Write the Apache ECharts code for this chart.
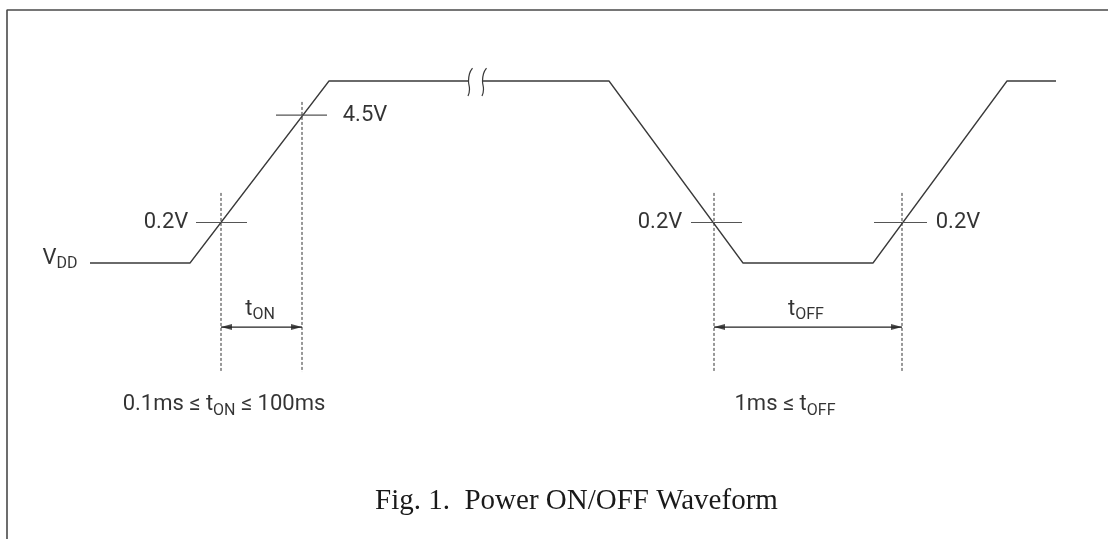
<!DOCTYPE html>
<html>
<head>
<meta charset="utf-8">
<title>Power ON/OFF Waveform</title>
<script src="https://cdn.jsdelivr.net/npm/echarts@6/dist/echarts.min.js"></script>
<style>
  html, body { margin: 0; padding: 0; background: #fff; }
  #main { width: 1108px; height: 539px; }
</style>
</head>
<body>
<div id="main"></div>
<script>
// time is schematic (not to scale); level 0 = 0V, 1 = VDD high
var waveTimes  = [0, 100, 239, 378, null, 392, 519, 653, 783, 917, 966];
var waveLevels = [0, 0,   1,   1,   null, 1,   1,   0,   0,   1,   1];

// break marks on the high level
var breakTimes  = [378, 392];
var breakDx     = [4.5, 1.5, 0.5, 1.5, 0];
var breakLevels = [1.071, 1.04, 1.0, 0.955, 0.918];

// threshold crossings (0.2V, 4.5V, 0.2V, 0.2V)
var markTimes  = [131, 212, 624, 812];
var markLevels = [0.2225, 0.813, 0.2225, 0.2225];
var markFrom   = [106, 186, 601, 784];
var markTo     = [157, 237, 652, 837];
var guideTop    = [0.385, 0.885, 0.385, 0.385];
var guideBottom = -0.599;

// tON / tOFF spans
var spanFrom  = [131, 624];
var spanTo    = [212, 812];
var spanLevel = -0.352;

var labelTexts = [
  '{m|V}{s|DD}',
  '{m|0.2V}',
  '{m|4.5V}',
  '{m|0.2V}',
  '{m|0.2V}',
  '{m|t}{s|ON}',
  '{m|t}{s|OFF}',
  '{m|0.1ms ≤ t}{s|ON}{m| ≤ 100ms}',
  '{m|1ms ≤ t}{s|OFF}'
];
var labelTimes  = [-30, 76, 275, 570, 868, 170, 716, 134, 695];
var labelLevels = [0.025, 0.2225, 0.813, 0.2225, 0.2225, -0.253, -0.253, -0.78, -0.78];

var captionText = 'Fig. 1.  Power ON/OFF Waveform';

// outer frame (top edge and left edge only)
var frameTimes  = [1018, -83, -83];
var frameLevels = [1.39, 1.39, -1.6];

var sans = 'Roboto, sans-serif';
var lineColor = '#3a3a3a';

var chart = echarts.init(document.getElementById('main'));

var series = [];

function plainLine(data, style, extra) {
  return echarts.util.extend({
    type: 'line',
    symbol: 'none',
    silent: true,
    data: data,
    lineStyle: style
  }, extra || {});
}

// frame
series.push(plainLine(
  frameTimes.map(function (t, i) { return [t, frameLevels[i]]; }),
  { color: '#4a4a4a', width: 1.6 },
  { clip: false }
));

// main waveform
series.push(plainLine(
  waveTimes.map(function (t, i) {
    return t === null ? ['-', '-'] : [t, waveLevels[i]];
  }),
  { color: lineColor, width: 1.3 },
  { connectNulls: false }
));

// break marks
breakTimes.forEach(function (bt) {
  series.push(plainLine(
    breakDx.map(function (dx, i) { return [bt + dx, breakLevels[i]]; }),
    { color: lineColor, width: 1.2 },
    { smooth: 0.5 }
  ));
});

// threshold ticks and dashed guides
markTimes.forEach(function (mt, i) {
  series.push(plainLine(
    [[markFrom[i], markLevels[i]], [markTo[i], markLevels[i]]],
    { color: '#555', width: 1.2 }
  ));
  series.push(plainLine(
    [[mt, guideTop[i]], [mt, guideBottom]],
    { color: '#333', width: 1, type: [3, 2] }
  ));
});

// tON / tOFF span lines
spanFrom.forEach(function (f, i) {
  series.push(plainLine(
    [[f, spanLevel], [spanTo[i], spanLevel]],
    { color: '#222', width: 1.3 }
  ));
});

// arrow heads, tips on the span ends
var heads = [];
spanFrom.forEach(function (f, i) {
  heads.push({ value: [f, spanLevel], symbolRotate: 90, symbolOffset: [5.5, 0] });
  heads.push({ value: [spanTo[i], spanLevel], symbolRotate: -90, symbolOffset: [-5.5, 0] });
});
series.push({
  type: 'scatter',
  silent: true,
  symbol: 'triangle',
  symbolSize: [6, 11],
  itemStyle: { color: '#222' },
  data: heads
});

// text labels
series.push({
  type: 'scatter',
  symbolSize: 0,
  silent: true,
  data: labelTimes.map(function (t, i) { return [t, labelLevels[i]]; }),
  label: {
    show: true,
    position: 'inside',
    formatter: function (p) { return labelTexts[p.dataIndex]; },
    rich: {
      m: { fontFamily: sans, fontSize: 22, color: '#000' },
      s: { fontFamily: sans, fontSize: 16, color: '#000', padding: [12, 0, 0, 0] }
    }
  }
});

chart.setOption({
  animation: false,
  backgroundColor: '#fff',
  title: {
    text: captionText,
    left: 370,
    top: 482,
    textStyle: { fontFamily: "'Liberation Serif', serif", fontSize: 29, fontWeight: 'normal', color: '#1a1a1a' }
  },
  grid: { left: 0, right: 0, top: 8.2, bottom: 3 },
  xAxis: { type: 'value', min: -90, max: 1018, show: false },
  yAxis: { type: 'value', min: -1.5, max: 1.4, show: false },
  series: series
});
</script>
</body>
</html>
